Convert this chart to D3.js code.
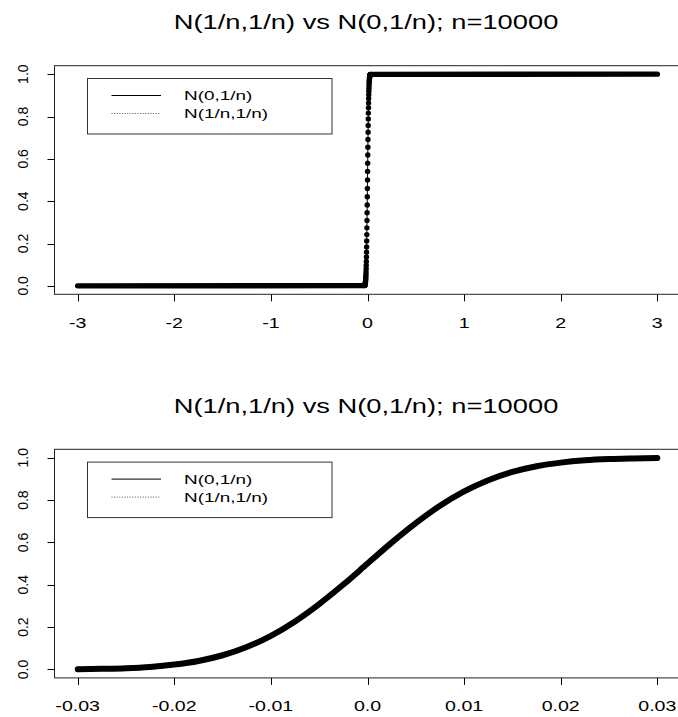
<!DOCTYPE html>
<html>
<head>
<meta charset="utf-8">
<script src="https://cdn.jsdelivr.net/npm/d3@7/dist/d3.min.js"></script>
<style>
  body { margin: 0; background: #fff; }
  svg { display: block; }
  text { font-family: "Liberation Sans", Arial, sans-serif; fill: #000; }
</style>
</head>
<body>
<div id="viz"></div>
<script>
// ---- data ----
var titleText = "N(1/n,1/n) vs N(0,1/n); n=10000";
var legendLabels = ["N(0,1/n)", "N(1/n,1/n)"];
var yTicks = [0, 0.2, 0.4, 0.6, 0.8, 1.0];

// top panel: x from -3 to 3, jump near 0
var topTicks = [-3, -2, -1, 0, 1, 2, 3];
var topX = [-3,
  -0.030, -0.029, -0.028, -0.027, -0.026, -0.025, -0.024, -0.023, -0.022, -0.021,
  -0.020, -0.019, -0.018, -0.017, -0.016, -0.015, -0.014, -0.013, -0.012, -0.011,
  -0.010, -0.009, -0.008, -0.007, -0.006, -0.005, -0.004, -0.003, -0.002, -0.001,
  0.000, 0.001, 0.002, 0.003, 0.004, 0.005, 0.006, 0.007, 0.008, 0.009,
  0.010, 0.011, 0.012, 0.013, 0.014, 0.015, 0.016, 0.017, 0.018, 0.019,
  0.020, 0.021, 0.022, 0.023, 0.024, 0.025, 0.026, 0.027, 0.028, 0.029, 0.030,
  3];
var topCdf = [0,
  0.001, 0.002, 0.003, 0.003, 0.005, 0.006, 0.008, 0.011, 0.014, 0.018,
  0.023, 0.029, 0.036, 0.045, 0.055, 0.067, 0.081, 0.097, 0.115, 0.136,
  0.159, 0.184, 0.212, 0.242, 0.274, 0.309, 0.345, 0.382, 0.421, 0.460,
  0.500, 0.540, 0.579, 0.618, 0.655, 0.691, 0.726, 0.758, 0.788, 0.816,
  0.841, 0.864, 0.885, 0.903, 0.919, 0.933, 0.945, 0.955, 0.964, 0.971,
  0.977, 0.982, 0.986, 0.989, 0.992, 0.994, 0.995, 0.997, 0.997, 0.998, 0.999,
  1];

// bottom panel: zoomed to -0.03 .. 0.03
var botTicks = [-0.03, -0.02, -0.01, 0, 0.01, 0.02, 0.03];
var botTickLabels = ["-0.03", "-0.02", "-0.01", "0.0", "0.01", "0.02", "0.03"];
var botX = [-0.0300, -0.0275, -0.0250, -0.0225, -0.0200, -0.0175, -0.0150, -0.0125, -0.0100,
  -0.0075, -0.0050, -0.0025, 0.0000, 0.0025, 0.0050, 0.0075, 0.0100, 0.0125, 0.0150,
  0.0175, 0.0200, 0.0225, 0.0250, 0.0275, 0.0300];
var botCdf = [0.001, 0.003, 0.006, 0.012, 0.023, 0.040, 0.067, 0.106, 0.159,
  0.227, 0.309, 0.401, 0.500, 0.599, 0.691, 0.773, 0.841, 0.894, 0.933,
  0.960, 0.977, 0.988, 0.994, 0.997, 0.999];

var W = 678, H = 717;
var stretch = 1.4; // horizontal text looks wider than normal Arial

var svg = d3.select('#viz').append('svg')
  .attr('width', W)
  .attr('height', H);

function hText(g, x, y, str, size, anchor) {
  // horizontal text, widened a bit like the original
  return g.append('text')
    .attr('transform', 'translate(' + x + ',' + y + ') scale(' + stretch + ',1)')
    .attr('text-anchor', anchor || 'middle')
    .style('font-size', size + 'px')
    .text(str);
}

function drawPanel(off, xDomain, ticks, tickLabels, draw) {
  var box = { left: 54.5, right: 680.5, top: 65.7 + off, bottom: 294.3 + off };
  var x = d3.scaleLinear().domain(xDomain).range([box.left, box.right]);
  var y = d3.scaleLinear().domain([-0.04, 1.04]).range([box.bottom, box.top]);
  var g = svg.append('g');

  // title
  hText(g, 366, 29 + off, titleText, 19.5);

  // x axis ticks + labels
  g.selectAll('.xt').data(ticks).enter().append('line')
    .attr('class', 'xt')
    .attr('x1', function (d) { return Math.round(x(d)) + 0.5; })
    .attr('x2', function (d) { return Math.round(x(d)) + 0.5; })
    .attr('y1', box.bottom).attr('y2', box.bottom + 7)
    .attr('stroke', '#000');
  ticks.forEach(function (d, i) {
    hText(g, x(d), 327.5 + off, tickLabels[i], 14);
  });

  // y axis ticks + rotated labels
  g.selectAll('.yt').data(yTicks).enter().append('line')
    .attr('class', 'yt')
    .attr('x1', box.left - 7).attr('x2', box.left)
    .attr('y1', function (d) { return Math.round(y(d)) + 0.5; })
    .attr('y2', function (d) { return Math.round(y(d)) + 0.5; })
    .attr('stroke', '#000');
  g.selectAll('.yl').data(yTicks).enter().append('text')
    .attr('class', 'yl')
    .attr('transform', function (d) { return 'translate(27.5,' + y(d) + ') rotate(-90)'; })
    .attr('text-anchor', 'middle')
    .style('font-size', '14px')
    .text(function (d) { return d3.format('.1f')(d); });

  // plot box
  g.append('rect')
    .attr('x', box.left).attr('y', box.top)
    .attr('width', box.right - box.left).attr('height', box.bottom - box.top)
    .attr('fill', 'none').attr('stroke', '#222');

  // legend
  var lg = g.append('g');
  lg.append('rect')
    .attr('x', 87.5).attr('y', 78.5 + off)
    .attr('width', 244.5).attr('height', 55.5)
    .attr('fill', '#fff').attr('stroke', '#333');
  lg.append('line')
    .attr('x1', 111.5).attr('x2', 161)
    .attr('y1', 95.5 + off).attr('y2', 95.5 + off)
    .attr('stroke', '#000');
  lg.append('line')
    .attr('x1', 111.5).attr('x2', 161)
    .attr('y1', 113.5 + off).attr('y2', 113.5 + off)
    .attr('stroke', '#555').attr('stroke-dasharray', '1,1.6');
  hText(lg, 184, 100 + off, legendLabels[0], 13.5, 'start');
  hText(lg, 184, 118 + off, legendLabels[1], 13.5, 'start');

  draw(g, x, y);
}

// top panel
drawPanel(0, [-3.24, 3.24], topTicks, topTicks.map(String), function (g, x, y) {
  var n = topX.length;
  var line = d3.line()
    .x(function (d, i) { return x(topX[i]); })
    .y(function (d) { return y(d); });
  // flat parts: dots packed so close they form a band
  [[0, 1], [n - 2, n - 1]].forEach(function (seg) {
    var xs = topX.slice(seg[0], seg[1] + 1);
    g.append('path')
      .attr('d', d3.line()
        .x(function (d, i) { return x(xs[i]); })
        .y(function (d) { return y(d); })(topCdf.slice(seg[0], seg[1] + 1)))
      .attr('fill', 'none').attr('stroke', '#000')
      .attr('stroke-width', 5.4).attr('stroke-linecap', 'round');
  });
  // thin connecting line
  g.append('path')
    .attr('d', line(topCdf))
    .attr('fill', 'none').attr('stroke', '#000').attr('stroke-width', 1);
  // points of the jump
  g.selectAll('.pt').data(topCdf.slice(1, n - 1)).enter().append('circle')
    .attr('class', 'pt')
    .attr('cx', function (d, i) { return x(topX[i + 1]); })
    .attr('cy', function (d) { return y(d); })
    .attr('r', 2.7)
    .attr('fill', '#000');
});

// bottom panel
drawPanel(383.6, [-0.0324, 0.0324], botTicks, botTickLabels, function (g, x, y) {
  var line = d3.line()
    .curve(d3.curveMonotoneX)
    .x(function (d, i) { return x(botX[i]); })
    .y(function (d) { return y(d); });
  g.append('path')
    .attr('d', line(botCdf))
    .attr('fill', 'none').attr('stroke', '#000')
    .attr('stroke-width', 6).attr('stroke-linecap', 'round')
    .attr('stroke-linejoin', 'round');
});
</script>
</body>
</html>
